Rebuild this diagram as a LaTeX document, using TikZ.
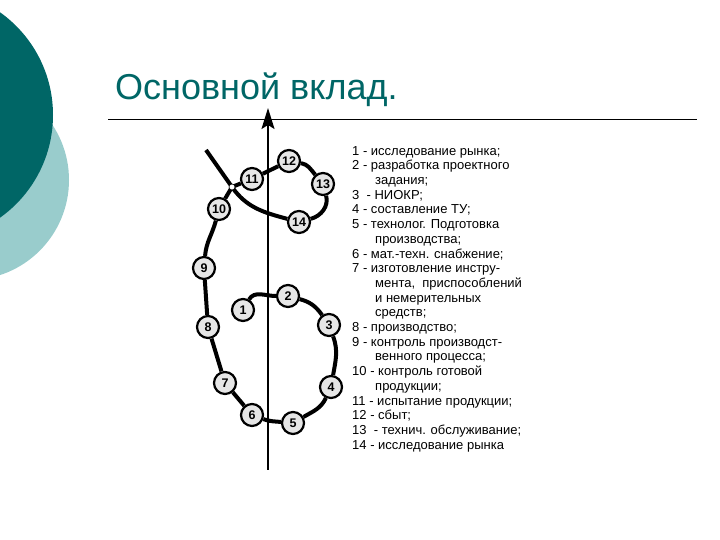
\documentclass[tikz,border=0pt]{standalone}
\usepackage{fontspec}
\setmainfont{Liberation Sans}
\usepackage{xcolor}
\definecolor{slideteal}{HTML}{006666}
\definecolor{slidemint}{HTML}{99CCCC}
\definecolor{stagefill}{HTML}{E6E6E6}
\usetikzlibrary{arrows.meta, positioning, calc}

\begin{document}
\begin{tikzpicture}[
    x=1pt, y=1pt,
    stage/.style={
        circle, draw=black, line width=2.2pt, fill=stagefill,
        minimum size=22pt, inner sep=0pt,
        font=\bfseries\fontsize{12.5}{12.5}\selectfont,
    },
    link/.style={line width=4pt, black},
    junction/.style={
        circle, draw=black, line width=0.6pt, fill=white,
        minimum size=6pt, inner sep=0pt,
    },
    axisarr/.style={
        -{Stealth[length=21pt, width=13pt, inset=4pt]},
        line width=1.6pt,
    },
]
\useasboundingbox (0,0) rectangle (720,540);

% -- Background circles --
\begin{scope}
    \clip (0,0) rectangle (720,540);
    \fill[slidemint] (-31,360) circle[radius=100pt];
    \fill[slideteal] (-73,425) circle[radius=126pt];
\end{scope}

% -- Title and rule --
\node[anchor=base west, inner sep=0pt, text=slideteal,
    font=\fontsize{36}{40}\selectfont] (title) at (115,440) {Основной вклад.};
\coordinate (ruleL) at (108,420);
\coordinate (ruleR) at (697,420);
\draw[line width=1pt] (ruleL) -- (ruleR);

% -- Stages --
\node[stage] (s1)  at (243,230) {1};
\node[stage] (s2)  at (288,244) {2};
\node[stage] (s3)  at (329,215) {3};
\node[stage] (s4)  at (331,153) {4};
\node[stage] (s5)  at (293,117) {5};
\node[stage] (s6)  at (252,125) {6};
\node[stage] (s7)  at (225,157) {7};
\node[stage] (s8)  at (208,213) {8};
\node[stage] (s9)  at (204,272) {9};
\node[stage] (s10) at (219,331) {10};
\node[stage] (s11) at (252,361) {11};
\node[stage] (s12) at (289,379) {12};
\node[stage] (s13) at (323,356) {13};
\node[stage] (s14) at (299,318) {14};
\coordinate (jx)   at (232,353);
\coordinate (tail) at (206,390);

% -- Spiral links --
\draw[link] (s1) to[out=60, in=180] (s2);
\draw[link] (s2) to[out=-15, in=125] (s3);
\draw[link] (s3) to[out=-70, in=80] (s4);
\draw[link] (s4) to[out=-115, in=30] (s5);
\draw[link] (s5) to[out=175, in=-20] (s6);
\draw[link] (s6) -- (s7);
\draw[link] (s7) -- (s8);
\draw[link] (s8) -- (s9);
\draw[link] (s9) to[out=85, in=-105] (s10);
\draw[link] (s10) -- (jx) -- (s11);
\draw[link] (tail) -- (jx) to[out=-55, in=165] (s14);
\draw[link] (s14) to[out=15, in=-75] (s13);
\draw[link] (s13) to[out=130, in=-10] (s12);
\draw[link] (s12) -- (s11);
\node[junction] (jdot) at (jx) {};

% -- Axis --
\coordinate (axbot) at (268,70);
\coordinate (axtop) at (268,432);
\draw[axisarr] (axbot) -- (axtop);

% -- Legend --
\node[anchor=north west, align=left, inner sep=0pt,
    font=\fontsize{13}{14.7}\selectfont] (legend) at (352,394) {%
    1 - исследование рынка;\\
    2 - разработка проектного\\
    \hspace*{23pt}задания;\\
    3 \ - НИОКР;\\
    4 - составление ТУ;\\
    5 - технолог. Подготовка\\
    \hspace*{23pt}производства;\\
    6 - мат.-техн. снабжение;\\
    7 - изготовление инстру-\\
    \hspace*{23pt}мента, \ приспособлений\\
    \hspace*{23pt}и немерительных\\
    \hspace*{23pt}средств;\\
    8 - производство;\\
    9 - контроль производст-\\
    \hspace*{23pt}венного процесса;\\
    10 - контроль готовой\\
    \hspace*{23pt}продукции;\\
    11 - испытание продукции;\\
    12 - сбыт;\\
    13 \ - технич. обслуживание;\\
    14 - исследование рынка};

\end{tikzpicture}
\end{document}
